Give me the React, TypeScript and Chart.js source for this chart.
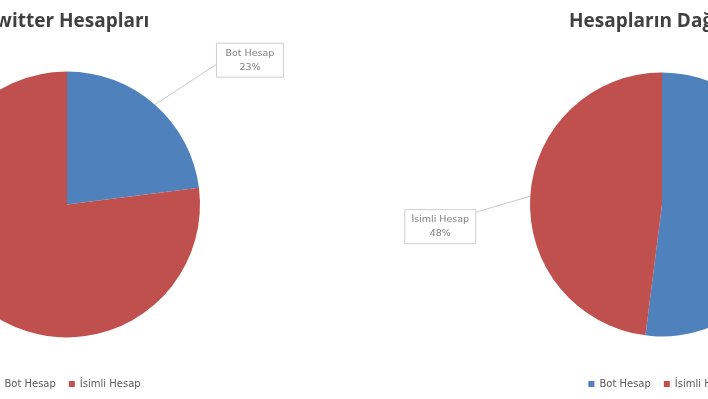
import React, { useEffect, useRef } from "react";
import { Chart, registerables } from "chart.js";

Chart.register(...registerables);

const categories = ["Bot Hesap", "İsimli Hesap"];
const twitterValues = [23, 77];
const distributionValues = [52, 48];
const titles = ["Twitter Hesapları", "Hesapların Dağılımı"];
const sliceColors = ["#4F81BD", "#C0504D"];

const calloutPlugin = {
  id: "callout",
  afterDatasetsDraw(chart: any, _args: any, opts: any) {
    if (!opts || opts.index == null) return;
    const meta = chart.getDatasetMeta(0);
    const arc = meta.data[opts.index];
    if (!arc) return;
    const { x, y, startAngle, endAngle, outerRadius } = arc.getProps(
      ["x", "y", "startAngle", "endAngle", "outerRadius"],
      true
    );
    const data = chart.data.datasets[0].data as number[];
    const total = data.reduce((a, b) => a + b, 0);
    const pct = Math.round((data[opts.index] / total) * 100) + "%";
    const label = chart.data.labels[opts.index] as string;
    const mid = (startAngle + endAngle) / 2;
    const ex = x + Math.cos(mid) * outerRadius;
    const ey = y + Math.sin(mid) * outerRadius;
    const bx = ex + opts.boxDx;
    const by = ey + opts.boxDy;
    const w = opts.width;
    const h = opts.height;
    const ax = opts.attach === "left" ? bx : bx + w;
    const ay = by + opts.attachDy;
    const ctx = chart.ctx;
    ctx.save();
    ctx.strokeStyle = "#c9c9c9";
    ctx.lineWidth = 1;
    ctx.beginPath();
    ctx.moveTo(ex, ey);
    ctx.lineTo(ax, ay);
    ctx.stroke();
    ctx.fillStyle = "#ffffff";
    ctx.fillRect(bx, by, w, h);
    ctx.strokeStyle = "#d0d0d0";
    ctx.strokeRect(bx + 0.5, by + 0.5, w - 1, h - 1);
    ctx.fillStyle = "#808080";
    ctx.font = "9.5px 'DejaVu Sans'";
    ctx.textAlign = "center";
    ctx.textBaseline = "middle";
    ctx.fillText(label, bx + w / 2, by + h / 2 - 7);
    ctx.fillText(pct, bx + w / 2, by + h / 2 + 7);
    ctx.restore();
  },
};

function PieChart(props: {
  values: number[];
  title: string;
  radius: number;
  callout: any;
  style: React.CSSProperties;
}) {
  const ref = useRef<HTMLCanvasElement | null>(null);
  useEffect(() => {
    if (!ref.current) return;
    const chart = new Chart(ref.current, {
      type: "pie",
      data: {
        labels: categories,
        datasets: [
          {
            data: props.values,
            backgroundColor: sliceColors,
            borderWidth: 0,
            radius: props.radius,
          } as any,
        ],
      },
      options: {
        animation: false,
        responsive: true,
        maintainAspectRatio: false,
        layout: { padding: 0 },
        plugins: {
          title: {
            display: true,
            text: props.title,
            color: "#404040",
            font: { family: "'Open Sans'", size: 19, weight: "bold" },
            padding: { top: 10, bottom: 10 },
          },
          legend: {
            position: "bottom",
            labels: {
              color: "#595959",
              font: { family: "'DejaVu Sans'", size: 10 },
              boxWidth: 6,
              boxHeight: 6,
              padding: 13,
            },
          },
          tooltip: { enabled: false },
          callout: props.callout,
        } as any,
      },
      plugins: [calloutPlugin],
    });
    return () => chart.destroy();
  }, []);
  return (
    <div style={{ position: "absolute", top: 0, height: 399, ...props.style }}>
      <canvas ref={ref} />
    </div>
  );
}

export default function App() {
  return (
    <div
      style={{
        position: "fixed",
        left: 0,
        top: 0,
        width: 708,
        height: 399,
        overflow: "hidden",
        background: "#ffffff",
      }}
    >
      <PieChart
        values={twitterValues}
        title={titles[0]}
        radius={133}
        style={{ left: -153, width: 440 }}
        callout={{ index: 0, boxDx: 61, boxDy: -62, width: 68, height: 35, attach: "left", attachDy: 22 }}
      />
      <PieChart
        values={distributionValues}
        title={titles[1]}
        radius={132}
        style={{ left: 382, width: 560 }}
        callout={{ index: 1, boxDx: -126, boxDy: 13, width: 72, height: 35, attach: "right", attachDy: 3 }}
      />
    </div>
  );
}
